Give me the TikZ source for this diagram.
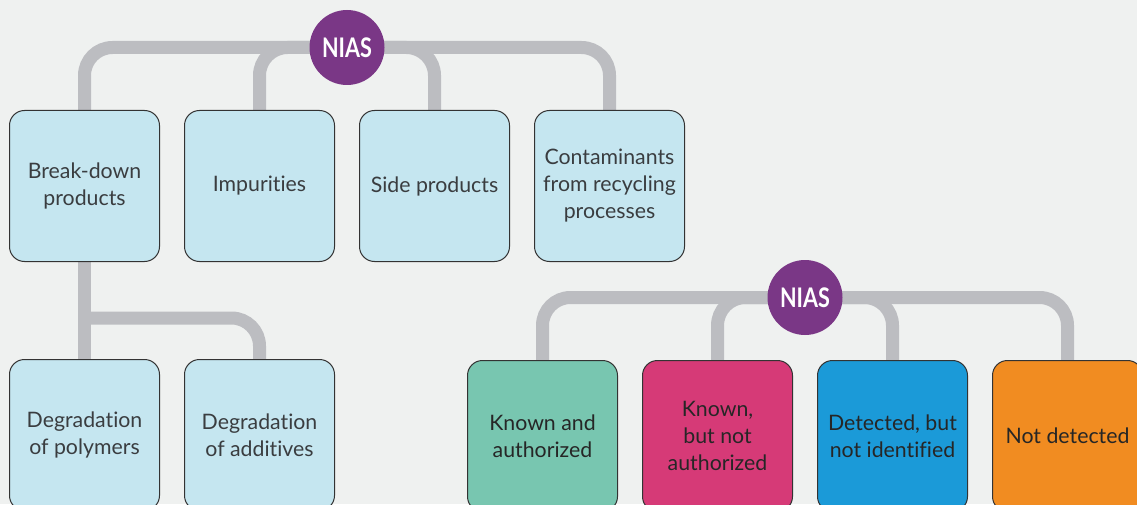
\documentclass[tikz,border=0pt]{standalone}
\usepackage{fontspec}
\setmainfont{Lato}[Ligatures={NoCommon}]
\newfontfamily\niasfont[FakeStretch=0.8]{Lato}
\usetikzlibrary{positioning,backgrounds}
\definecolor{bgcol}{HTML}{EFF1F0}
\definecolor{pipecol}{HTML}{BCBDC1}
\definecolor{niascol}{HTML}{7A3786}
\definecolor{lightblue}{HTML}{C5E6F0}
\definecolor{greenbox}{HTML}{78C6B0}
\definecolor{pinkbox}{HTML}{D63A77}
\definecolor{bluebox}{HTML}{1B9AD8}
\definecolor{orangebox}{HTML}{F18C21}
\definecolor{boxline}{HTML}{333333}
\definecolor{txtcol}{HTML}{3A3D40}
\tikzset{
  catbox/.style={draw=boxline, line width=1pt, rounded corners=15pt,
    minimum width=150pt, minimum height=151pt, inner sep=0pt,
    align=center, text=txtcol, font=\fontsize{21.3}{27}\selectfont},
  nias/.style={circle, fill=niascol, minimum size=75pt, inner sep=0pt,
    text=white, font=\niasfont\bfseries\fontsize{27}{27}\selectfont},
  pipe/.style={draw=pipecol, line width=13pt, rounded corners=28pt},
}

\begin{document}
\begin{tikzpicture}[x=1pt, y=1pt, node distance=24pt]
  \useasboundingbox (0,0) rectangle (1137,504);
  \clip (0,0) rectangle (1137,504);

  % sources of NIAS
  \node[catbox, fill=lightblue] (brk) at (84.5,318) {Break-down\\products};
  \node[catbox, fill=lightblue, right=of brk] (imp) {Impurities};
  \node[catbox, fill=lightblue, right=of imp] (side) {Side products};
  \node[catbox, fill=lightblue, right=of side] (cont) {Contaminants\\from recycling\\processes};
  \node[nias] (nias1) at (347,456.5) {NIAS};

  \node[catbox, fill=lightblue, below=97pt of brk] (degpoly) {Degradation\\of polymers};
  \node[catbox, fill=lightblue, right=of degpoly] (degadd) {Degradation\\of additives};
  \coordinate (split) at (84.5,186);

  % status of NIAS
  \node[catbox, fill=greenbox, text=black!85] (known) at (542.5,68) {Known and\\authorized};
  \node[catbox, fill=pinkbox, text=black!85, right=of known] (notauth) {Known,\\but not\\authorized};
  \node[catbox, fill=bluebox, text=black!85, right=of notauth] (detect) {Detected, but\\not identified};
  \node[catbox, fill=orangebox, text=black!85, right=of detect] (notdet) {Not detected};
  \node[nias] (nias2) at (805,206.5) {NIAS};

  \begin{scope}[on background layer]
    \fill[bgcol] (0,0) rectangle (1137,504);
    \foreach \b in {brk,imp,side,cont}
      \draw[pipe] (nias1.center) -| (\b.north);
    \draw[pipe] (brk.south) -- (degpoly.north);
    \draw[pipe] (split) -| (degadd.north);
    \foreach \b in {known,notauth,detect,notdet}
      \draw[pipe] (nias2.center) -| (\b.north);
  \end{scope}
\end{tikzpicture}
\end{document}
